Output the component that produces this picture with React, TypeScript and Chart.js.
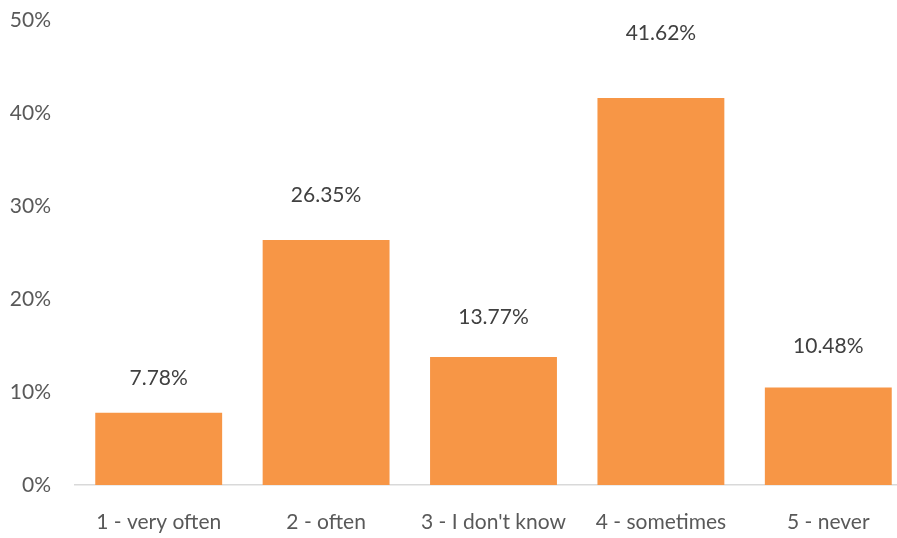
import React, { useEffect, useRef } from "react";
import { Chart, registerables } from "chart.js";

Chart.register(...registerables);

const categories = ["1 - very often", "2 - often", "3 - I don't know", "4 - sometimes", "5 - never"];
const values = [7.78, 26.35, 13.77, 41.62, 10.48];
const valueLabels = ["7.78%", "26.35%", "13.77%", "41.62%", "10.48%"];
const yTicks = [0, 10, 20, 30, 40, 50];

// style: vertical gap between bar top and its label centre (px)
const labelGaps = [34, 45, 40, 65, 41];

const FONT = "Lato, 'Open Sans', sans-serif";
const FONT_SIZE = 21;

export default function App() {
  const ref = useRef<HTMLCanvasElement | null>(null);

  useEffect(() => {
    document.body.style.margin = "0";
    const canvas = ref.current;
    if (!canvas) return;

    const labelPlugin = {
      id: "valueLabels",
      afterDatasetsDraw(chart: any) {
        const ctx = chart.ctx;
        const meta = chart.getDatasetMeta(0);
        ctx.save();
        ctx.font = `${FONT_SIZE}px ${FONT}`;
        ctx.fillStyle = "#404040";
        ctx.textAlign = "center";
        ctx.textBaseline = "middle";
        meta.data.forEach((el: any, i: number) => {
          ctx.fillText(valueLabels[i], el.x, el.y - labelGaps[i]);
        });
        ctx.restore();
      },
    };

    const chart = new Chart(canvas, {
      type: "bar",
      data: {
        labels: categories,
        datasets: [
          {
            data: values,
            backgroundColor: "#F79646",
            borderWidth: 0,
            categoryPercentage: 0.758,
            barPercentage: 1,
          },
        ],
      },
      options: {
        animation: false,
        responsive: false,
        maintainAspectRatio: false,
        layout: { padding: { top: 20, right: 0, bottom: 0, left: 0 } },
        plugins: {
          legend: { display: false },
          tooltip: { enabled: false },
        },
        scales: {
          x: {
            grid: { display: false, drawTicks: false },
            border: { display: true, color: "#D9D9D9", width: 1.5 },
            ticks: {
              color: "#595959",
              font: { family: FONT, size: FONT_SIZE },
              padding: 25,
              maxRotation: 0,
              autoSkip: false,
            },
            afterFit(scale: any) {
              scale.height = 53;
              scale.paddingLeft = 0;
              scale.paddingRight = 0;
            },
          },
          y: {
            min: 0,
            max: 50,
            afterBuildTicks(scale: any) {
              scale.ticks = yTicks.map((v) => ({ value: v }));
            },
            grid: { display: false, drawTicks: false },
            border: { display: false },
            ticks: {
              color: "#595959",
              font: { family: FONT, size: FONT_SIZE },
              padding: 24,
              callback: (v: any) => `${v}%`,
            },
            afterFit(scale: any) {
              scale.width = 75;
              scale.paddingTop = 0;
              scale.paddingBottom = 0;
            },
          },
        },
      },
      plugins: [labelPlugin],
    });

    return () => chart.destroy();
  }, []);

  return (
    <div style={{ width: 897, height: 538, position: "relative", background: "#fff", overflow: "hidden" }}>
      <canvas ref={ref} width={912} height={538} style={{ display: "block", width: 912, height: 538 }} />
    </div>
  );
}
